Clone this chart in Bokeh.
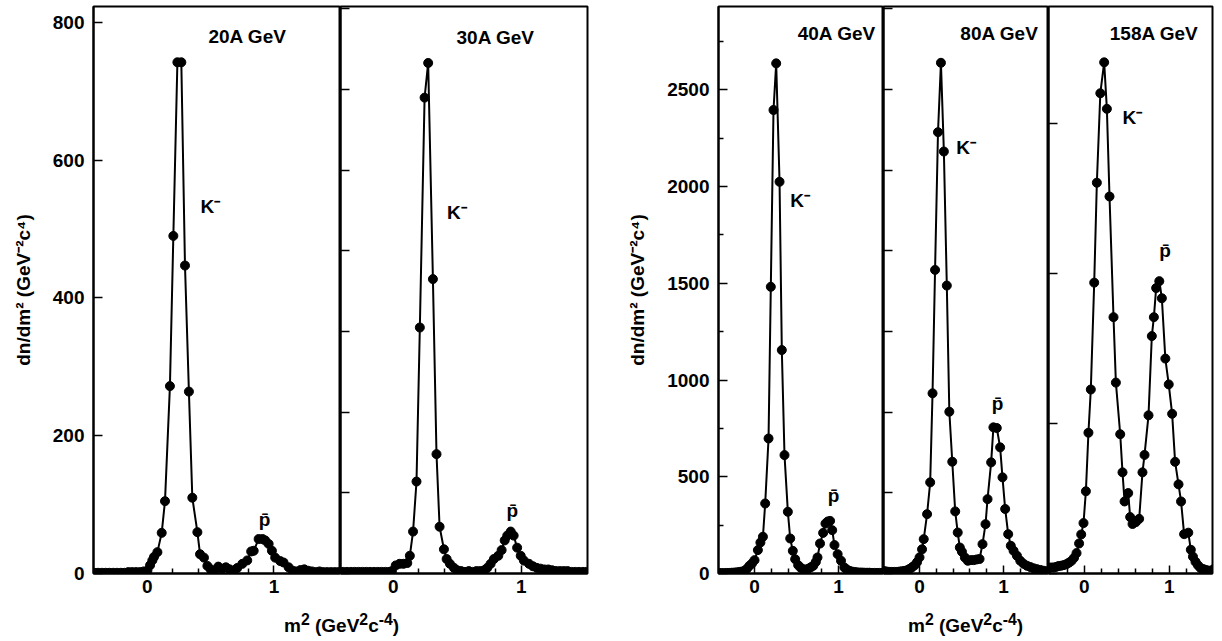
from bokeh.plotting import figure
from bokeh.layouts import row, column
from bokeh.models import FixedTicker, Label, Div, Range1d
from bokeh.embed import file_html
from bokeh.resources import INLINE

FONT = "Liberation Sans"

# ---------------- data (m^2 in GeV^2 c^-4, dn/dm^2 in each panel's own units) ----------------
PANELS = ["20A GeV", "30A GeV", "40A GeV", "80A GeV", "158A GeV"]

M2_20 = [-0.42, -0.39, -0.36, -0.33, -0.30, -0.27, -0.24, -0.21, -0.18, -0.15, -0.12, -0.09, -0.06, -0.03,
         0.00, 0.021, 0.039, 0.052, 0.079, 0.113, 0.139, 0.178, 0.205, 0.237,
         0.268, 0.297, 0.328, 0.355, 0.395, 0.416, 0.447, 0.474, 0.50, 0.53,
         0.56, 0.59, 0.62, 0.65, 0.68, 0.71, 0.75, 0.789, 0.82, 0.84,
         0.879, 0.91, 0.931, 0.958, 0.984, 1.01, 1.05, 1.076, 1.116, 1.15,
         1.18, 1.21, 1.24, 1.27, 1.30, 1.33, 1.36, 1.39, 1.42, 1.45,
         1.48, 1.51]
DN_20 = [1, 1, 1, 1, 1, 1, 1, 1, 1, 2, 2, 2, 2, 3,
         4, 12, 19, 24, 31, 59, 105, 272, 490, 742,
         742, 447, 264, 110, 60, 28, 23, 11, 6, 4,
         10, 7, 9, 6, 4, 8, 14, 19, 32, 33,
         50, 50, 48, 43, 33, 23, 18, 16, 9, 4,
         3, 5, 6, 4, 3, 2, 3, 2, 2, 2,
         2, 2]

M2_30 = [-0.42, -0.39, -0.36, -0.33, -0.30, -0.27, -0.24, -0.21, -0.18, -0.15, -0.12, -0.09, -0.06, -0.03,
         -0.01, 0.02, 0.05, 0.08, 0.11, 0.13, 0.155, 0.182, 0.208, 0.245,
         0.273, 0.31, 0.338, 0.362, 0.396, 0.417, 0.443, 0.474, 0.50, 0.53,
         0.56, 0.59, 0.62, 0.65, 0.68, 0.71, 0.734, 0.76, 0.786, 0.82,
         0.846, 0.87, 0.89, 0.917, 0.94, 0.967, 0.995, 1.02, 1.06, 1.09,
         1.12, 1.15, 1.18, 1.21, 1.24, 1.27, 1.30, 1.33, 1.36, 1.39,
         1.42, 1.45, 1.48, 1.51]
DN_30 = [2, 2, 2, 2, 2, 2, 2, 2, 2, 2, 2, 2, 2, 2,
         3, 10, 12, 12, 13, 22, 52, 114, 305, 590,
         633, 365, 148, 58, 30, 18, 12, 7, 4, 3,
         2, 3, 2, 3, 3, 4, 7, 12, 18, 22,
         29, 41, 47, 52, 47, 32, 22, 16, 12, 9,
         7, 6, 5, 5, 4, 3, 3, 3, 3, 2,
         2, 2, 2, 2]

M2_40 = [-0.42, -0.39, -0.36, -0.33, -0.30, -0.27, -0.24, -0.21, -0.18, -0.15, -0.12, -0.09, -0.06, -0.03,
         0.00, 0.04, 0.07, 0.10, 0.127, 0.167, 0.194, 0.226, 0.258, 0.298,
         0.325, 0.357, 0.397, 0.425, 0.456, 0.484, 0.52, 0.55, 0.58, 0.61,
         0.64, 0.67, 0.70, 0.73, 0.75, 0.78, 0.817, 0.845, 0.873, 0.90,
         0.925, 0.952, 0.99, 1.03, 1.07, 1.10, 1.13, 1.16, 1.19, 1.22,
         1.25, 1.28, 1.31, 1.34, 1.37, 1.40, 1.43, 1.46, 1.49, 1.52]
DN_40 = [2, 2, 2, 3, 3, 4, 5, 6, 8, 10, 14, 25, 40, 52,
         69, 121, 160, 190, 362, 698, 1482, 2396, 2637, 2025,
         1155, 612, 319, 181, 117, 74, 43, 30, 22, 20,
         25, 32, 40, 60, 83, 155, 210, 258, 269, 272,
         224, 147, 100, 66, 31, 20, 14, 10, 8, 6,
         5, 5, 4, 4, 4, 3, 3, 3, 3, 3]

M2_80 = [-0.42, -0.39, -0.36, -0.33, -0.30, -0.27, -0.24, -0.21, -0.18, -0.15, -0.12, -0.09, -0.06, -0.03,
         0.00, 0.03, 0.05, 0.09, 0.127, 0.155, 0.185, 0.22, 0.255, 0.29,
         0.325, 0.355, 0.39, 0.425, 0.455, 0.48, 0.505, 0.54, 0.575, 0.61,
         0.645, 0.68, 0.715, 0.75, 0.786, 0.81, 0.853, 0.88, 0.92, 0.96,
         0.988, 1.02, 1.056, 1.087, 1.12, 1.16, 1.20, 1.24, 1.28, 1.32,
         1.36, 1.40, 1.44, 1.48, 1.52]
DN_80 = [15, 12, 10, 10, 10, 10, 12, 14, 16, 20, 28, 38, 50, 70,
         100, 150, 213, 368, 565, 1117, 1882, 2736, 3166, 2616,
         1785, 1003, 693, 385, 254, 161, 135, 99, 79, 83,
         83, 87, 90, 182, 306, 461, 689, 906, 902, 782,
         596, 400, 244, 172, 141, 110, 79, 60, 48, 40,
         32, 27, 22, 17, 14]

M2_158 = [-0.42, -0.39, -0.36, -0.33, -0.30, -0.27, -0.24, -0.21, -0.18, -0.15, -0.12, -0.09, -0.06, -0.035,
          -0.008, 0.02, 0.05, 0.078, 0.118, 0.149, 0.19, 0.235, 0.267, 0.298,
          0.345, 0.373, 0.424, 0.451, 0.475, 0.518, 0.541, 0.569, 0.608, 0.647,
          0.686, 0.71, 0.757, 0.796, 0.82, 0.847, 0.884, 0.914, 0.955, 0.995,
          1.035, 1.07, 1.11, 1.14, 1.176, 1.225, 1.255, 1.28, 1.31, 1.34,
          1.37, 1.40, 1.43, 1.46, 1.49, 1.52, 1.55]
DN_158 = [18, 20, 20, 22, 25, 26, 28, 31, 36, 42, 52, 68, 100, 130,
          168, 274, 469, 613, 969, 1302, 1600, 1703, 1548, 1256,
          854, 636, 464, 337, 240, 268, 188, 165, 171, 182,
          337, 395, 527, 791, 854, 951, 974, 917, 716, 630,
          532, 372, 297, 240, 131, 136, 79, 56, 39, 27,
          18, 15, 12, 10, 8, 14, 20]

X_LABEL_HTML = "m<sup>2</sup> (GeV<sup>2</sup>c<sup>-4</sup>)"
Y_LABEL = "dn/dm\u00b2 (GeV\u207b\u00b2c\u2074)"
K_LABEL = "K\u207b"
PBAR_LABEL = "p\u0304"

# ---------------- panel builder ----------------
FRAME_H = 567


def panel(x, y, xr, yend, yticks, yminor, frame_w, left, right, labels, title_xy, k_xy, p_xy):
    p = figure(frame_width=frame_w, frame_height=FRAME_H,
               x_range=Range1d(*xr), y_range=Range1d(0, yend),
               output_backend="svg", toolbar_location=None,
               min_border_left=left, min_border_right=right,
               min_border_top=6, min_border_bottom=30)
    p.background_fill_color = "white"
    p.border_fill_color = "white"
    p.outline_line_color = "black"
    p.outline_line_width = 2
    p.xgrid.visible = False
    p.ygrid.visible = False

    p.line(x, y, line_color="black", line_width=2)
    p.scatter(x, y, marker="circle", size=9, fill_color="black", line_color="black")

    xa = p.xaxis[0]
    xa.ticker = FixedTicker(ticks=[0, 1], minor_ticks=[-0.4, -0.2, 0.2, 0.4, 0.6, 0.8, 1.2, 1.4])
    ya = p.yaxis[0]
    ya.ticker = FixedTicker(ticks=yticks, minor_ticks=yminor)
    for ax in (xa, ya):
        ax.axis_line_color = "black"
        ax.axis_line_width = 2
        ax.major_tick_line_width = 1.5
        ax.minor_tick_line_width = 1.5
        ax.major_tick_out = 0
        ax.minor_tick_out = 0
        ax.major_tick_in = 9
        ax.minor_tick_in = 5
        ax.major_label_text_font = FONT
        ax.major_label_text_font_style = "bold"
        ax.major_label_text_font_size = "19px"
        ax.major_label_text_color = "black"
    xa.major_label_standoff = 6
    xa.major_tick_in = 8
    if labels:
        ya.major_label_standoff = 9
        ya.axis_label = Y_LABEL
        ya.axis_label_text_font = FONT
        ya.axis_label_text_font_style = "bold"
        ya.axis_label_text_font_size = "19px"
        ya.axis_label_standoff = 16
        ya.axis_label_text_color = "black"
    else:
        ya.major_label_standoff = 0
        ya.major_label_overrides = {t: "" for t in yticks}
        ya.major_label_text_font_size = "0px"

    common = dict(text_font=FONT, text_font_style="bold", text_font_size="19px", text_color="black")
    p.add_layout(Label(x=title_xy[0], y=title_xy[1], text=title_xy[2], text_align="right",
                       text_baseline="middle", **common))
    p.add_layout(Label(x=k_xy[0], y=k_xy[1], text=K_LABEL, text_align="left",
                       text_baseline="middle", **common))
    p.add_layout(Label(x=p_xy[0], y=p_xy[1], text=PBAR_LABEL, text_align="center",
                       text_baseline="alphabetic", **common))
    return p


p1 = panel(M2_20, DN_20, (-0.426, 1.526), 823, [0, 200, 400, 600, 800], [], 247, 93, 0, True,
           (1.10, 779, PANELS[0]), (0.42, 532), (0.926, 78))
p2 = panel(M2_30, DN_30, (-0.411, 1.516), 703, [0, 100, 200, 300, 400, 500, 600, 700], [], 247, 0, 2, False,
           (1.104, 665, PANELS[1]), (0.42, 448), (0.93, 78))
p3 = panel(M2_40, DN_40, (-0.429, 1.536), 2931, [0, 500, 1000, 1500, 2000, 2500],
           [250, 750, 1250, 1750, 2250, 2750], 165, 129, 0, True,
           (1.445, 2792, PANELS[2]), (0.425, 1927), (0.94, 402))
p4 = panel(M2_80, DN_80, (-0.429, 1.536), 3515, [0, 500, 1000, 1500, 2000, 2500, 3000, 3500], [],
           165, 0, 0, False,
           (1.417, 3346, PANELS[3]), (0.437, 2643), (0.93, 1051))
p5 = panel(M2_158, DN_158, (-0.42, 1.51), 1889, [0, 500, 1000, 1500], [], 164, 0, 2, False,
           (1.345, 1798, PANELS[4]), (0.45, 1520), (0.953, 1076))

lbl_style = ("font-family:'Liberation Sans',Arial,sans-serif;font-weight:bold;font-size:19px;"
             "color:black;white-space:nowrap;position:relative;top:7px;line-height:19px;")
d1 = Div(text=f'<div style="{lbl_style}padding-left:284px;">{X_LABEL_HTML}</div>',
         width=589, height=34, margin=(0, 0, 0, 0))
d2 = Div(text=f'<div style="{lbl_style}padding-left:319px;">{X_LABEL_HTML}</div>',
         width=625, height=34, margin=(0, 0, 0, 0))

layout = column(row(p1, p2, p3, p4, p5, spacing=0), row(d1, d2, spacing=0), spacing=0)

open("out.html", "w").write(file_html(layout, INLINE))
